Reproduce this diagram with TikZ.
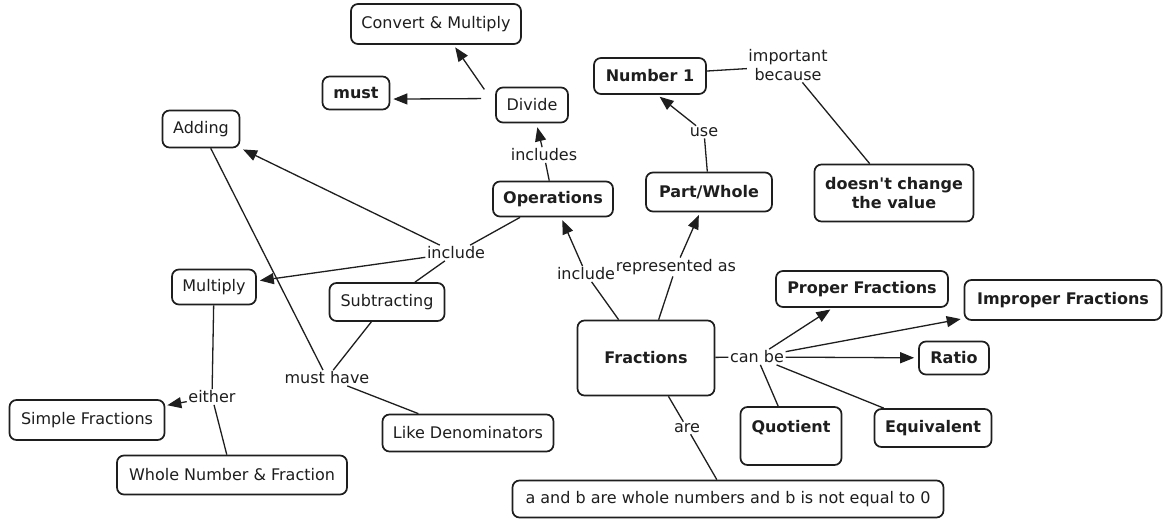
\documentclass[tikz,border=0pt]{standalone}
\usepackage{fontspec}
\setmainfont{DejaVu Sans}
\usetikzlibrary{arrows.meta}
\definecolor{ink}{HTML}{1E1E1E}

\begin{document}
\begin{tikzpicture}[x=1pt,y=-1pt,
  every node/.style={text=ink},
  concept/.style={draw=ink, line width=1.7pt, rounded corners=7pt, fill=white,
    inner sep=0pt, align=center, font=\fontsize{16}{19}\selectfont},
  bold/.style={font=\fontsize{16}{19}\selectfont\bfseries},
  boxsize/.style 2 args={minimum width=#1pt, minimum height=#2pt},
  link/.style={inner sep=1.5pt, align=center, font=\fontsize{16}{19}\selectfont},
  conn/.style={draw=ink, line width=1.3pt},
  arr/.style={conn, -{Triangle[length=14pt,width=11pt]}, shorten >=3pt},
]
\useasboundingbox[fill=white] (0,0) rectangle (1165,525);

% concepts and linking phrases
\node[concept, boxsize={170}{40}] (cm) at (436,24) {Convert \& Multiply};
\node[concept, bold, boxsize={67}{33}] (must) at (356,93) {must};
\node[concept, boxsize={72}{35}] (divide) at (532,105) {Divide};
\node[concept, boxsize={77}{37}] (adding) at (201,129) {Adding};
\node[concept, bold, boxsize={112}{36}] (num1) at (650,76) {Number 1};
\node[link] (ib) at (788,65) {important\\because};
\node[concept, bold, boxsize={159}{57}] (doesnt) at (894,193) {doesn\textquotesingle t change\\the value};
\node[link] (use) at (704,132) {use};
\node[link] (includes) at (544,155) {includes};
\node[concept, bold, boxsize={120}{35}] (ops) at (553,199) {Operations};
\node[concept, bold, boxsize={126}{39}] (pw) at (709,192) {Part/Whole};
\node[link] (incL) at (456,253) {include};
\node[concept, boxsize={84}{35}] (mult) at (214,287) {Multiply};
\node[concept, boxsize={115}{38}] (sub) at (387,302) {Subtracting};
\node[link] (incR) at (586,274) {include};
\node[link] (rep) at (676,267) {represented as};
\node[concept, bold, boxsize={172}{36}] (proper) at (862,289) {Proper Fractions};
\node[concept, bold, boxsize={197}{40}] (improper) at (1063,300) {Improper Fractions};
\node[concept, bold, boxsize={137}{75}] (frac) at (646,358) {Fractions};
\node[link] (canbe) at (757,357) {can be};
\node[concept, bold, boxsize={70}{33}] (ratio) at (954,358) {Ratio};
\node[link] (musthave) at (327,378) {must have};
\node[link] (either) at (212,397) {either};
\node[concept, boxsize={155}{40}] (simple) at (87,420) {Simple Fractions};
\node[concept, boxsize={171}{37}] (like) at (468,433) {Like Denominators};
\node[concept, bold, minimum width=101pt, text height=25pt, text depth=33pt] (quot) at (791,436) {Quotient};
\node[concept, bold, boxsize={117}{38}] (equiv) at (933,428) {Equivalent};
\node[link] (are) at (687,428) {are};
\node[concept, boxsize={230}{39}] (whole) at (232,475) {Whole Number \& Fraction};
\node[concept, boxsize={431}{37}] (ab) at (728,499) {a and b are whole numbers and b is not equal to 0};

% connections
\draw[arr, shorten <=19pt] (divide.west) -- (cm.-50);
\draw[arr, shorten <=14pt] (divide.170) -- (must.-10);
\draw[conn] (ops) -- (includes);
\draw[arr, shorten >=4pt] (includes) -- (divide);
\draw[conn] (ops) -- (incL);
\draw[arr] (incL) -- (adding);
\draw[arr] (incL) -- (mult);
\draw[conn] (incL) -- (sub);
\draw[conn] (adding) -- (musthave);
\draw[conn] (sub) -- (musthave);
\draw[conn] (musthave) -- (like);
\draw[conn] (mult) -- (either);
\draw[arr, shorten >=2pt] (either) -- (simple);
\draw[conn] (either) -- (whole);
\draw[conn] (frac) -- (incR);
\draw[arr] (incR) -- (ops);
\draw[conn] (frac) -- (rep);
\draw[arr] (rep) -- (pw);
\draw[conn] (pw) -- (use);
\draw[arr] (use) -- (num1.-69);
\draw[conn] (num1.5) -- (ib.185);
\draw[conn] (ib) -- (doesnt);
\draw[conn] (frac) -- (canbe);
\draw[arr] (canbe) -- (proper);
\draw[arr] (canbe) -- (improper);
\draw[arr, shorten >=4pt] (canbe) -- (ratio);
\draw[conn] (canbe) -- (quot);
\draw[conn] (canbe) -- (equiv);
\draw[conn] (frac) -- (are);
\draw[conn] (are) -- (ab);
\end{tikzpicture}
\end{document}
